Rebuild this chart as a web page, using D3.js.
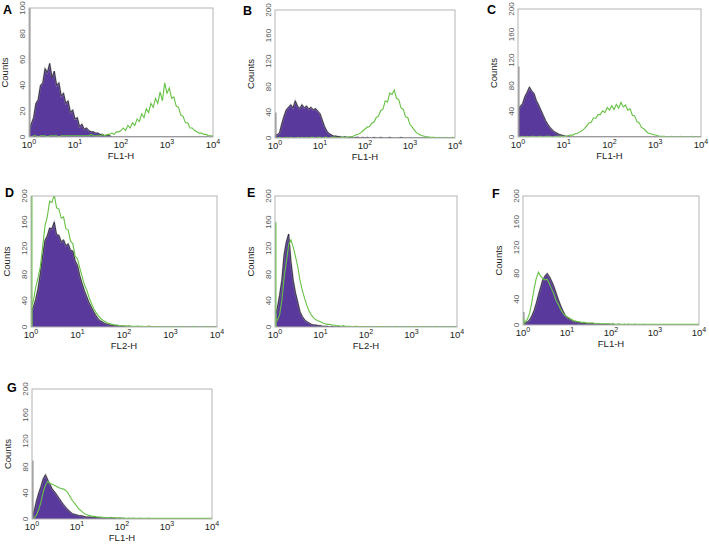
<!DOCTYPE html>
<html>
<head>
<meta charset="utf-8">
<script src="https://cdn.jsdelivr.net/npm/d3@7"></script>
<style>
  body { margin: 0; background: #fff; }
  svg { display: block; font-family: "Liberation Sans", Arial, sans-serif; }
</style>
</head>
<body>
<div id="figure"></div>
<script>
// Flow cytometry overlays: control (purple, filled) vs stained (green outline).
// Counts at 20 channels per decade, 10^0 .. 10^4 (81 channels).

const panelNames = ["A", "B", "C", "D", "E", "F", "G"];
const axisTitles = ["FL1-H", "FL1-H", "FL1-H", "FL2-H", "FL2-H", "FL1-H", "FL1-H"];
const countMax = [100, 200, 200, 200, 200, 200, 200];
const ticksSmall = [0, 20, 40, 60, 80, 100];
const ticksLarge = [0, 40, 80, 120, 160, 200];
const decadeTicks = [1, 10, 100, 1000, 10000];
const decadeExps = ["0", "1", "2", "3", "4"];

// spikes that pile up in the first channel (drawn as a line on the left edge)
const controlEdge = [100, 40, 110, 30, 20, 20, 90];
const stainedEdge = [0, 0, 0, 200, 160, 10, 0];

const controlA = [5, 10, 15, 26, 29, 40, 42, 53, 50, 57, 46, 51, 40, 42, 32, 34, 26, 28, 19, 21,
  14, 15, 8, 10, 6, 7, 5, 4, 4, 3, 3, 2, 2, 1, 1, 1, 0, 0, 0, 0,
  0, 0, 0, 0, 0, 0, 0, 0, 0, 0, 0, 0, 0, 0, 0, 0, 0, 0, 0, 0,
  0, 0, 0, 0, 0, 0, 0, 0, 0, 0, 0, 0, 0, 0, 0, 0, 0, 0, 0, 0, 0];
const stainedA = [0, 0, 1, 1, 0, 1, 1, 1, 0, 1, 1, 1, 1, 0, 1, 1, 1, 1, 1, 1,
  1, 1, 1, 1, 1, 1, 1, 2, 1, 1, 1, 1, 2, 1, 2, 2, 3, 2, 4, 4,
  5, 7, 5, 9, 7, 11, 9, 14, 12, 18, 15, 22, 19, 26, 23, 30, 26, 35, 28, 42,
  34, 38, 30, 31, 24, 23, 17, 16, 11, 11, 7, 7, 5, 4, 3, 3, 2, 2, 1, 1, 1];

const controlB = [5, 5, 8, 22, 34, 44, 48, 52, 47, 58, 50, 46, 52, 47, 50, 45, 48, 44, 46, 42,
  38, 28, 18, 11, 7, 5, 3, 3, 2, 2, 1, 2, 1, 1, 1, 0, 1, 1, 0, 1,
  0, 1, 0, 0, 1, 0, 0, 1, 0, 0, 0, 1, 0, 0, 0, 0, 1, 0, 0, 0,
  0, 0, 0, 0, 0, 0, 0, 0, 0, 0, 0, 0, 0, 0, 0, 0, 0, 0, 0, 0, 0];
const stainedB = [0, 0, 1, 0, 0, 1, 0, 1, 0, 0, 1, 0, 1, 0, 1, 0, 1, 1, 0, 1,
  1, 0, 1, 1, 0, 1, 1, 1, 0, 1, 1, 1, 1, 2, 2, 3, 5, 6, 8, 11,
  14, 17, 18, 23, 25, 32, 34, 43, 45, 58, 56, 70, 68, 75, 62, 60, 47, 45, 33, 32,
  21, 17, 12, 8, 6, 4, 3, 2, 2, 1, 1, 1, 0, 1, 0, 0, 1, 0, 0, 1, 0];

const controlC = [40, 48, 52, 63, 70, 78, 72, 68, 57, 50, 42, 34, 26, 20, 15, 11, 8, 6, 4, 3,
  2, 1, 1, 0, 0, 0, 0, 0, 0, 0, 0, 0, 0, 0, 0, 0, 0, 0, 0, 0,
  0, 0, 0, 0, 0, 0, 0, 0, 0, 0, 0, 0, 0, 0, 0, 0, 0, 0, 0, 0,
  0, 0, 0, 0, 0, 0, 0, 0, 0, 0, 0, 0, 0, 0, 0, 0, 0, 0, 0, 0, 0];
const stainedC = [0, 0, 1, 0, 1, 0, 1, 1, 0, 1, 1, 0, 1, 1, 1, 0, 1, 1, 1, 1,
  1, 1, 2, 3, 3, 5, 6, 8, 10, 13, 17, 22, 23, 30, 29, 35, 35, 41, 38, 46,
  42, 49, 43, 51, 45, 54, 47, 50, 42, 44, 34, 33, 24, 22, 15, 13, 9, 6, 5, 4,
  3, 2, 1, 1, 1, 0, 0, 1, 0, 0, 0, 1, 0, 0, 0, 0, 1, 0, 0, 0, 0];

const controlD = [25, 30, 42, 58, 81, 108, 132, 139, 151, 150, 160, 141, 140, 130, 133, 124, 127, 117, 116, 101,
  94, 78, 66, 55, 46, 37, 30, 23, 17, 12, 9, 7, 5, 4, 3, 3, 2, 2, 1, 1,
  1, 1, 0, 1, 0, 0, 1, 0, 0, 0, 0, 1, 0, 0, 0, 0, 0, 0, 0, 0,
  0, 0, 0, 0, 0, 0, 0, 0, 0, 0, 0, 0, 0, 0, 0, 0, 0, 0, 0, 0, 0];
const stainedD = [30, 40, 60, 75, 92, 122, 154, 168, 192, 190, 202, 182, 180, 166, 168, 150, 148, 131, 127, 108,
  104, 90, 77, 64, 56, 45, 36, 28, 22, 17, 13, 10, 8, 6, 5, 4, 3, 3, 2, 2,
  2, 1, 2, 1, 1, 1, 1, 1, 1, 0, 1, 1, 0, 1, 0, 1, 0, 0, 1, 0,
  0, 1, 0, 0, 0, 1, 0, 0, 0, 0, 1, 0, 0, 0, 0, 0, 1, 0, 0, 0, 0];

const controlE = [20, 28, 48, 71, 110, 130, 142, 100, 71, 52, 38, 23, 16, 11, 8, 6, 4, 3, 3, 2,
  2, 1, 1, 1, 0, 1, 0, 0, 1, 0, 0, 0, 0, 0, 0, 0, 0, 0, 0, 0,
  0, 0, 0, 0, 0, 0, 0, 0, 0, 0, 0, 0, 0, 0, 0, 0, 0, 0, 0, 0,
  0, 0, 0, 0, 0, 0, 0, 0, 0, 0, 0, 0, 0, 0, 0, 0, 0, 0, 0, 0, 0];
const stainedE = [15, 10, 18, 40, 75, 100, 125, 133, 122, 108, 92, 71, 56, 44, 33, 24, 18, 14, 11, 9,
  8, 6, 5, 4, 4, 3, 3, 2, 2, 1, 2, 1, 1, 1, 0, 1, 1, 0, 1, 0,
  1, 0, 1, 0, 0, 1, 0, 1, 0, 0, 1, 0, 0, 1, 0, 0, 1, 0, 0, 1,
  0, 0, 1, 0, 0, 1, 0, 0, 1, 0, 0, 1, 0, 0, 1, 0, 0, 1, 0, 0, 1];

const controlF = [2, 3, 5, 8, 14, 22, 33, 46, 58, 70, 76, 80, 75, 68, 60, 50, 40, 31, 23, 16,
  12, 9, 7, 5, 5, 4, 3, 3, 3, 2, 2, 2, 2, 1, 2, 1, 1, 1, 1, 1,
  1, 1, 0, 1, 1, 0, 1, 0, 1, 0, 0, 1, 0, 0, 0, 1, 0, 0, 0, 0,
  0, 0, 0, 0, 0, 0, 0, 0, 0, 0, 0, 0, 0, 0, 0, 0, 0, 0, 0, 0, 0];
const stainedF = [3, 5, 9, 18, 35, 55, 72, 82, 76, 72, 70, 71, 64, 56, 48, 38, 32, 25, 19, 15,
  13, 11, 9, 7, 6, 5, 5, 4, 4, 3, 3, 3, 3, 2, 2, 2, 2, 2, 2, 2,
  1, 2, 1, 1, 1, 1, 1, 1, 1, 1, 1, 1, 1, 1, 1, 1, 1, 1, 1, 1,
  1, 1, 1, 1, 1, 1, 1, 1, 1, 1, 1, 1, 1, 1, 1, 1, 1, 1, 1, 1, 1];

const controlG = [8, 12, 28, 40, 50, 62, 68, 60, 53, 46, 42, 37, 32, 27, 22, 18, 14, 11, 8, 7,
  6, 5, 5, 4, 3, 3, 3, 2, 2, 2, 2, 1, 2, 1, 1, 2, 1, 1, 1, 1,
  1, 1, 0, 1, 0, 1, 0, 0, 1, 0, 0, 0, 1, 0, 0, 0, 0, 0, 0, 0,
  0, 0, 0, 0, 0, 0, 0, 0, 0, 0, 0, 0, 0, 0, 0, 0, 0, 0, 0, 0, 0];
const stainedG = [1, 2, 6, 15, 26, 42, 52, 58, 55, 53, 52, 50, 48, 47, 46, 44, 40, 34, 28, 24,
  19, 15, 12, 9, 7, 6, 5, 4, 4, 3, 3, 3, 2, 2, 2, 2, 2, 2, 1, 2,
  1, 1, 1, 1, 1, 1, 1, 1, 1, 1, 1, 1, 1, 1, 1, 1, 1, 1, 1, 1,
  1, 1, 1, 1, 1, 1, 1, 1, 1, 1, 1, 1, 1, 1, 1, 1, 1, 1, 1, 1, 1];

const controls = [controlA, controlB, controlC, controlD, controlE, controlF, controlG];
const staineds = [stainedA, stainedB, stainedC, stainedD, stainedE, stainedF, stainedG];

// where each panel sits in the 709x544 figure
const layout = [
  { x: 29, y: 8, w: 184, h: 129, lx: 3, ly: 14 },
  { x: 275, y: 10, w: 180, h: 128, lx: 243, ly: 15 },
  { x: 518, y: 9, w: 183, h: 128, lx: 487, ly: 14 },
  { x: 31, y: 196, w: 186, h: 131, lx: 5, ly: 197 },
  { x: 275, y: 196, w: 182, h: 131, lx: 247, ly: 197 },
  { x: 523, y: 196, w: 176, h: 129, lx: 492, ly: 198 },
  { x: 32, y: 389, w: 180, h: 130, lx: 7, ly: 392 }
];

const width = 709;
const height = 544;
const purple = "#5a399c";
const green = "#66c244";

const svg = d3.create("svg")
  .attr("width", width)
  .attr("height", height);

const channelsPerDecade = 20;

panelNames.forEach((name, p) => {
  const L = layout[p];
  const x = d3.scaleLog().domain([1, 10000]).range([0, L.w]);
  const y = d3.scaleLinear().domain([0, countMax[p]]).range([L.h, 0]);
  const channel = i => Math.pow(10, i / channelsPerDecade);

  const g = svg.append("g").attr("transform", `translate(${L.x},${L.y})`);

  g.append("clipPath").attr("id", "clip" + p)
    .append("rect").attr("width", L.w).attr("height", L.h);

  const plot = g.append("g").attr("clip-path", `url(#clip${p})`);

  const area = d3.area()
    .x((d, i) => x(channel(i)))
    .y0(L.h)
    .y1(d => y(d));
  const line = d3.line()
    .x((d, i) => x(channel(i)))
    .y(d => y(d));

  // control: filled purple with a dark ragged edge
  plot.append("path")
    .datum(controls[p])
    .attr("fill", purple)
    .attr("d", area);
  plot.append("path")
    .datum(controls[p])
    .attr("fill", "none")
    .attr("stroke", "#9a96a2")
    .attr("stroke-width", 1.8)
    .attr("stroke-opacity", 0.6)
    .attr("d", line);
  plot.append("path")
    .datum(controls[p])
    .attr("fill", "none")
    .attr("stroke", "#1f1a2c")
    .attr("stroke-width", 0.8)
    .attr("d", line);

  // stained sample: green outline
  plot.append("path")
    .datum(staineds[p])
    .attr("fill", "none")
    .attr("stroke", green)
    .attr("stroke-width", 1.1)
    .attr("d", line);

  // first-channel pile-ups
  plot.append("line")
    .attr("x1", 0.8).attr("x2", 0.8)
    .attr("y1", L.h).attr("y2", y(controlEdge[p]))
    .attr("stroke", "#8a8a8a").attr("stroke-width", 1.4);
  if (stainedEdge[p] > 0) {
    plot.append("line")
      .attr("x1", 0.8).attr("x2", 0.8)
      .attr("y1", L.h).attr("y2", y(stainedEdge[p]))
      .attr("stroke", green).attr("stroke-width", 1.4);
  }

  // frame
  g.append("rect")
    .attr("width", L.w).attr("height", L.h)
    .attr("fill", "none")
    .attr("stroke", "#b4b4b4")
    .attr("stroke-width", 1);

  // y tick labels, rotated
  const yTicks = countMax[p] === 100 ? ticksSmall : ticksLarge;
  g.selectAll(".ytick")
    .data(yTicks)
    .join("text")
    .attr("class", "ytick")
    .attr("transform", d => `translate(-7,${y(d)}) rotate(-90)`)
    .attr("text-anchor", "middle")
    .attr("dy", "0.35em")
    .attr("font-size", 8)
    .attr("fill", "#555")
    .text(d => d);

  // x tick labels: 10^n
  const xt = g.selectAll(".xtick")
    .data(decadeTicks)
    .join("text")
    .attr("class", "xtick")
    .attr("x", d => x(d))
    .attr("y", L.h + 11)
    .attr("text-anchor", "middle")
    .attr("font-size", 9.5)
    .attr("fill", "#222");
  xt.append("tspan").text("10");
  xt.append("tspan")
    .attr("dy", -4)
    .attr("font-size", 7)
    .text((d, i) => decadeExps[i]);

  g.append("text")
    .attr("x", L.w / 2)
    .attr("y", L.h + 22)
    .attr("text-anchor", "middle")
    .attr("font-size", 9.5)
    .attr("fill", "#222")
    .text(axisTitles[p]);

  g.append("text")
    .attr("transform", `translate(-21,${L.h / 2}) rotate(-90)`)
    .attr("text-anchor", "middle")
    .attr("font-size", 9.5)
    .attr("fill", "#222")
    .text("Counts");

  svg.append("text")
    .attr("x", L.lx)
    .attr("y", L.ly)
    .attr("font-size", 12.5)
    .attr("font-weight", "bold")
    .attr("fill", "#000")
    .text(name);
});

document.getElementById("figure").appendChild(svg.node());
</script>
</body>
</html>
